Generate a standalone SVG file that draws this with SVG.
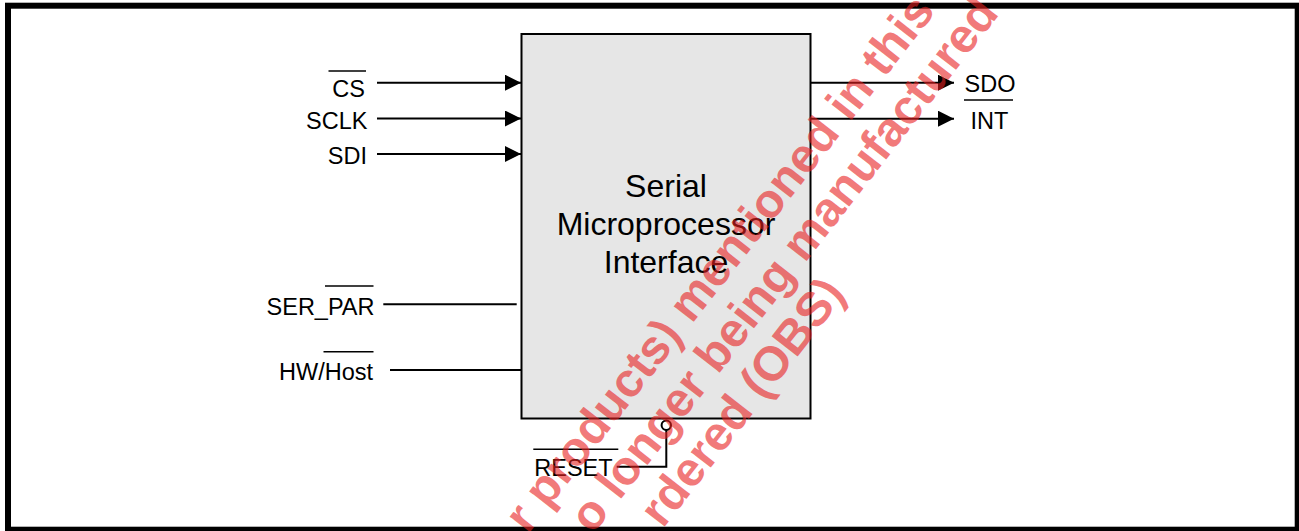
<svg xmlns="http://www.w3.org/2000/svg" width="1299" height="531" viewBox="0 0 1299 531">
  <style>
    .lbl { font-family: "Liberation Sans", Arial, sans-serif; font-size: 23.5px; fill: #000; }
    .title { font-family: "Liberation Sans", Arial, sans-serif; font-size: 32px; fill: #000; text-anchor: middle; }
    .wire { stroke: #000; stroke-width: 2; fill: none; }
    .bar { stroke: #000; stroke-width: 1.6; }
    .wm { font-family: "Liberation Sans", Arial, sans-serif; font-weight: bold; font-size: 48px; fill: #e82020; fill-opacity: 0.6; }
  </style>
  <defs>
    <marker id="arrow" markerUnits="userSpaceOnUse" markerWidth="16" markerHeight="16" refX="16" refY="8" orient="auto">
      <path d="M0,0 L16,8 L0,16 z" fill="#000"/>
    </marker>
  </defs>
  <rect width="1299" height="531" fill="#fff"/>
  <rect x="8" y="5.7" width="1289.7" height="524" fill="none" stroke="#000" stroke-width="6"/>

  <g id="block">
    <rect x="521.5" y="34" width="289" height="384.5" fill="#e6e6e6" stroke="#000" stroke-width="2"/>
    <text class="title" x="666" y="197">Serial</text>
    <text class="title" x="666" y="235">Microprocessor</text>
    <text class="title" x="666" y="273">Interface</text>
  </g>

  <g id="pin-cs">
    <text class="lbl" x="365" y="97" text-anchor="end">CS</text>
    <line class="bar" x1="328.5" y1="71" x2="366" y2="71"/>
  </g>
  <g id="pin-sclk">
    <text class="lbl" x="367.5" y="129" text-anchor="end">SCLK</text>
  </g>
  <g id="pin-sdi">
    <text class="lbl" x="367" y="164" text-anchor="end">SDI</text>
  </g>
  <g id="pin-serpar">
    <text class="lbl" x="374.5" y="315" text-anchor="end">SER_PAR</text>
    <line class="bar" x1="325" y1="286" x2="373.5" y2="286"/>
  </g>
  <g id="pin-hwhost">
    <text class="lbl" x="373" y="380" text-anchor="end">HW/Host</text>
    <line class="bar" x1="323.5" y1="351.7" x2="373.5" y2="351.7"/>
  </g>
  <g id="pin-sdo">
    <text class="lbl" x="964.5" y="92">SDO</text>
  </g>
  <g id="pin-int">
    <text class="lbl" x="970.5" y="128.5">INT</text>
    <line class="bar" x1="964" y1="100" x2="1013" y2="100"/>
  </g>
  <g id="pin-reset">
    <text class="lbl" x="534.3" y="476">RESET</text>
    <line class="bar" x1="533.3" y1="449.3" x2="618.3" y2="449.3"/>
  </g>

  <g id="connectors">
    <line class="wire" x1="377" y1="82.7" x2="521" y2="82.7" marker-end="url(#arrow)"/>
    <line class="wire" x1="377" y1="118.5" x2="521" y2="118.5" marker-end="url(#arrow)"/>
    <line class="wire" x1="377" y1="154" x2="521" y2="154" marker-end="url(#arrow)"/>
    <line class="wire" x1="383.3" y1="304.3" x2="516.7" y2="304.3"/>
    <line class="wire" x1="390" y1="370" x2="521" y2="370"/>
    <line class="wire" x1="810.5" y1="82.7" x2="954" y2="82.7" marker-end="url(#arrow)"/>
    <line class="wire" x1="810.5" y1="118.7" x2="954" y2="118.7" marker-end="url(#arrow)"/>
    <polyline class="wire" points="616.7,466.7 666.3,466.7 666.3,430"/>
    <circle cx="666.3" cy="425.3" r="4.7" fill="#fff" stroke="#000" stroke-width="2"/>
  </g>

  <g id="watermark" transform="rotate(-52)">
    <text class="wm" x="-96.5" y="745">r products) mentioned in this</text>
    <text class="wm" x="-56.5" y="796.5">o longer being manufactured</text>
    <text class="wm" x="-9" y="848">rdered (OBS)</text>
  </g>
</svg>
